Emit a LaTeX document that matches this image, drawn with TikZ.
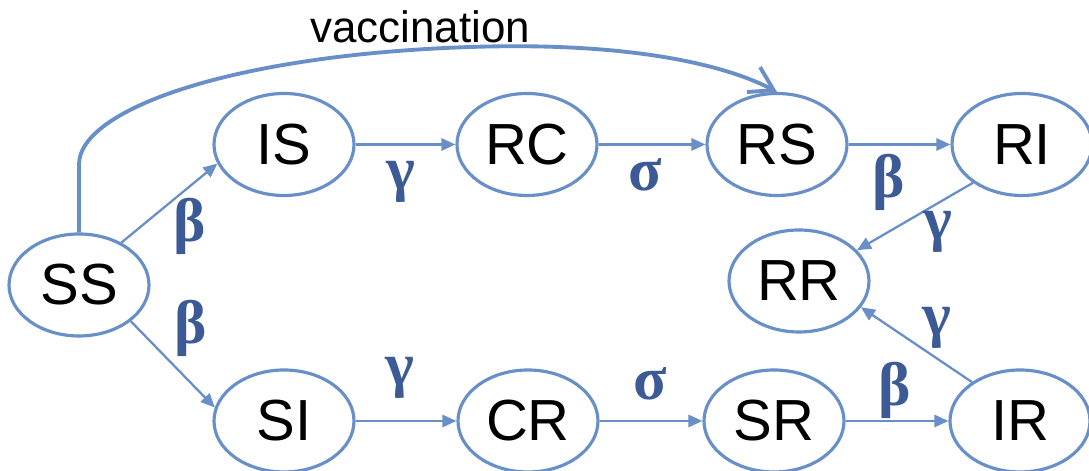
\documentclass[tikz,border=0pt]{standalone}
\usepackage{fontspec}
\setmainfont{Liberation Serif}
\setsansfont{Liberation Sans}
\usetikzlibrary{shapes.geometric,arrows.meta}
\definecolor{lineblue}{RGB}{104,143,200}
\definecolor{greekblue}{RGB}{60,90,150}
\begin{document}
\begin{tikzpicture}[
  state/.style={shape=ellipse, draw=lineblue, line width=1.8pt, fill=white, minimum width=2.8cm, minimum height=2.04cm, inner sep=0pt, font=\sffamily\fontsize{33}{33}\selectfont},
  flow/.style={-{Triangle[length=8pt,width=7pt]}, line width=1.3pt, draw=lineblue},
  vaccine/.style={-{Straight Barb[length=13pt,width=16pt]}, line width=2.2pt, draw=lineblue},
  rate/.style={text=greekblue, font=\rmfamily\bfseries\fontsize{35}{35}\selectfont}
]
\useasboundingbox (0,0) rectangle (21.78,9.42);
\node[state] (SS) at (1.58, 3.72) {SS};
\node[state] (IS) at (5.68, 6.53) {IS};
\node[state] (RC) at (10.54, 6.53) {RC};
\node[state] (RS) at (15.54, 6.53) {RS};
\node[state] (RI) at (20.44, 6.53) {RI};
\node[state] (RR) at (15.98, 3.80) {RR};
\node[state] (SI) at (5.68, 1.0) {SI};
\node[state] (CR) at (10.56, 1.0) {CR};
\node[state] (SR) at (15.48, 1.0) {SR};
\node[state] (IR) at (20.40, 1.0) {IR};
\path (SS.45) edge [flow] (IS.196);
\path (SS.-35) edge [flow] (SI.169);
\path (IS) edge [flow] (RC);
\path (RC) edge [flow] (RS);
\path (RS) edge [flow] (RI);
\path (RI.218) edge [flow] (RR.28);
\path (SI) edge [flow] (CR);
\path (CR) edge [flow] (SR);
\path (SR) edge [flow] (IR);
\path (IR.141) edge [flow] (RR.-23);
\draw [vaccine] (SS.north) -- ++(0,1.36) .. controls (1.58,7.22) and (4.6,8.32) .. (9.4,8.48) .. controls (12.4,8.58) and (14.4,8.18) .. (RS.north);
\node[font=\sffamily\fontsize{25}{25}\selectfont] (vac) at (8.4, 8.88) {vaccination};
\node[rate] (b1) at (3.8, 4.9) {β};
\node[rate] (b2) at (3.82, 2.86) {β};
\node[rate] (g1) at (8.02, 5.78) {γ};
\node[rate] (s1) at (12.9, 5.92) {σ};
\node[rate] (b3) at (17.78, 5.78) {β};
\node[rate] (g2) at (18.76, 4.78) {γ};
\node[rate] (g3) at (8.0, 1.86) {γ};
\node[rate] (s2) at (13.0, 1.74) {σ};
\node[rate] (b4) at (17.9, 1.62) {β};
\node[rate] (g4) at (18.74, 2.86) {γ};
\end{tikzpicture}
\end{document}
